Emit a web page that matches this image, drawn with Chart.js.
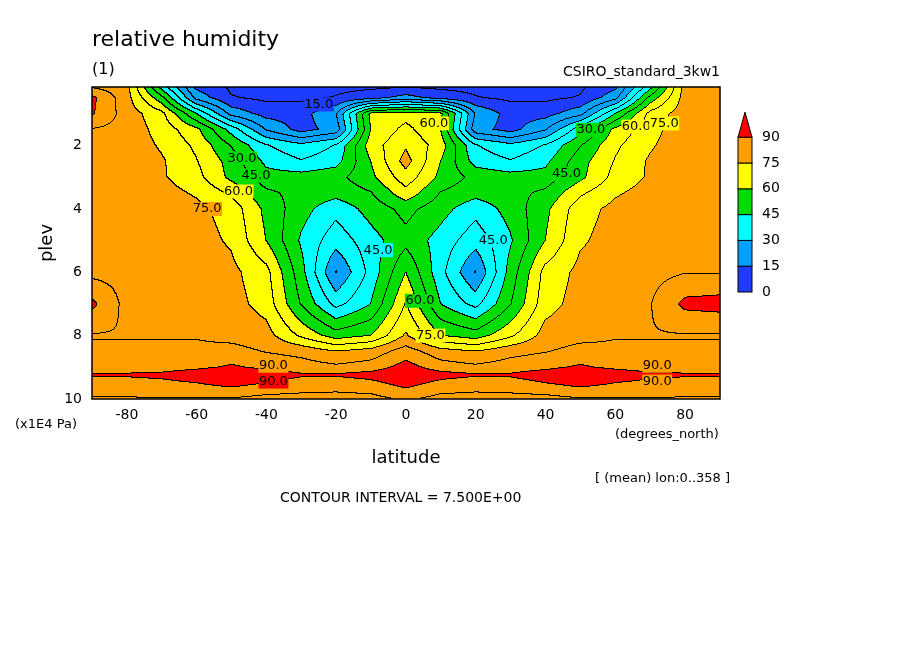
<!DOCTYPE html>
<html>
<head>
<meta charset="utf-8">
<script src="https://cdn.jsdelivr.net/npm/chart.js@4"></script>
<style>
  body { margin: 0; background: #fff; }
  #wrap { width: 904px; height: 654px; }
</style>
</head>
<body>
<div id="wrap"><canvas id="c" width="904" height="654"></canvas></div>
<script>
// grid axes
var lats = [-90, -80, -70, -60, -50, -40, -30, -20, -10, 0, 10, 20, 30, 40, 50, 60, 70, 80, 90];
var plevs = [0.1, 0.5, 1, 1.5, 2, 2.5, 3, 3.5, 4, 5, 6, 7, 8, 8.5, 9, 9.25, 9.5, 10];

// relative humidity (%), one row per pressure level, south -> north
var rh = [
  [80, 78, 40, 12,  6,  5,  5,  5,  5,  5,  5,  5,  5,  5,  6, 12, 40, 78, 80],
  [92, 78, 55, 20,  8,  6,  6,  8, 12, 18, 12,  8,  6,  6,  8, 20, 55, 78, 80],
  [91, 79, 70, 45, 20, 12, 12, 22, 62, 64, 62, 22, 12, 12, 20, 45, 70, 79, 80],
  [82, 80, 72, 62, 42, 22, 12, 18, 60, 70, 60, 18, 12, 22, 42, 62, 72, 80, 80],
  [80, 80, 74, 66, 52, 38, 32, 38, 64, 74, 64, 38, 32, 38, 52, 66, 74, 80, 80],
  [80, 80, 76, 68, 57, 43, 38, 42, 60, 78, 60, 42, 38, 43, 57, 68, 76, 80, 80],
  [80, 80, 76, 70, 58, 48, 48, 50, 58, 72, 58, 50, 48, 48, 58, 70, 76, 80, 80],
  [80, 80, 78, 74, 66, 54, 50, 48, 52, 65, 52, 48, 50, 54, 66, 74, 78, 80, 80],
  [80, 80, 79, 77, 72, 58, 48, 40, 48, 55, 48, 40, 48, 58, 72, 77, 79, 80, 80],
  [80, 80, 80, 78, 74, 60, 44, 33, 42, 50, 42, 33, 44, 60, 74, 78, 80, 80, 80],
  [80, 80, 80, 79, 77, 70, 48, 22, 40, 60, 40, 22, 48, 70, 77, 79, 80, 82, 82],
  [92, 80, 80, 80, 78, 72, 52, 35, 45, 68, 45, 35, 52, 72, 78, 80, 82, 92, 93],
  [82, 82, 82, 82, 80, 78, 66, 56, 60, 76, 60, 56, 66, 78, 80, 82, 82, 82, 82],
  [84, 84, 84, 84, 85, 82, 80, 75, 78, 86, 78, 75, 80, 82, 85, 84, 84, 84, 84],
  [86, 86, 86, 88, 91, 88, 86, 84, 86, 93, 86, 84, 86, 88, 91, 88, 86, 86, 86],
  [91, 91, 92, 95, 97, 94, 91, 91, 93, 97, 93, 91, 91, 94, 97, 95, 92, 91, 91],
  [86, 87, 88, 90, 93, 90, 87, 86, 88, 93, 88, 86, 87, 90, 93, 90, 88, 87, 86],
  [82, 82, 82, 82, 82, 80, 80, 80, 80, 84, 80, 80, 80, 80, 82, 82, 82, 82, 82]
];

var levels = [0, 15, 30, 45, 60, 75, 90];
var bandColors = [[30, 60, 255], [0, 160, 255], [0, 255, 255], [0, 220, 0], [255, 255, 0], [255, 160, 0], [255, 0, 0]];
var xTicks = [-80, -60, -40, -20, 0, 20, 40, 60, 80];
var yTicks = [2, 4, 6, 8, 10];

// contour labels: [lat, plev, text]
var contourLabels = [
  [-25, 0.7, '15.0'], [-47, 2.4, '30.0'], [-43, 2.95, '45.0'], [-48, 3.45, '60.0'],
  [-57, 4.0, '75.0'], [8, 1.3, '60.0'], [-8, 5.3, '45.0'], [25, 5.0, '45.0'],
  [4, 6.9, '60.0'], [7, 8.0, '75.0'], [46, 2.9, '45.0'], [53, 1.5, '30.0'],
  [66, 1.4, '60.0'], [74, 1.3, '75.0'], [-38, 8.95, '90.0'], [-38, 9.45, '90.0'],
  [72, 8.95, '90.0'], [72, 9.45, '90.0']
];

function bracket(arr, v) {
  var i = 0;
  while (i < arr.length - 2 && v > arr[i + 1]) i++;
  var t = (v - arr[i]) / (arr[i + 1] - arr[i]);
  return [i, Math.max(0, Math.min(1, t))];
}

function sample(lat, p) {
  var bx = bracket(lats, lat), by = bracket(plevs, p);
  var i = bx[0], tx = bx[1], j = by[0], ty = by[1];
  var a = rh[j][i] * (1 - tx) + rh[j][i + 1] * tx;
  var b = rh[j + 1][i] * (1 - tx) + rh[j + 1][i + 1] * tx;
  return a * (1 - ty) + b * ty;
}

var contourPlugin = {
  id: 'contour',
  beforeDatasetsDraw: function(chart) {
    var ctx = chart.ctx, area = chart.chartArea;
    var xs = chart.scales.x, ys = chart.scales.y;
    var w = Math.round(area.right - area.left), h = Math.round(area.bottom - area.top);
    var vals = new Float32Array(w * h);
    for (var py = 0; py < h; py++) {
      var p = ys.getValueForPixel(area.top + py + 0.5);
      for (var px = 0; px < w; px++) {
        vals[py * w + px] = sample(xs.getValueForPixel(area.left + px + 0.5), p);
      }
    }
    var img = ctx.createImageData(w, h);
    for (var k = 0; k < w * h; k++) {
      var v = vals[k];
      var band = Math.min(6, Math.max(0, Math.floor(v / 15)));
      var c = bandColors[band];
      var fine = Math.floor(v / 7.5);
      var line = false;
      var x = k % w, y = (k - x) / w;
      if (x < w - 1 && Math.floor(vals[k + 1] / 7.5) !== fine) line = true;
      if (y < h - 1 && Math.floor(vals[k + w] / 7.5) !== fine) line = true;
      if (line) c = [0, 0, 0];
      img.data[k * 4] = c[0];
      img.data[k * 4 + 1] = c[1];
      img.data[k * 4 + 2] = c[2];
      img.data[k * 4 + 3] = 255;
    }
    ctx.putImageData(img, Math.round(area.left), Math.round(area.top));

    ctx.save();
    ctx.font = '13px "DejaVu Sans"';
    ctx.textAlign = 'center';
    ctx.textBaseline = 'middle';
    contourLabels.forEach(function(l) {
      var x = xs.getPixelForValue(l[0]), y = ys.getPixelForValue(l[1]);
      var col = bandColors[Math.min(6, Math.floor(sample(l[0], l[1]) / 15))];
      ctx.fillStyle = 'rgb(' + col.join(',') + ')';
      ctx.fillRect(x - 15, y - 7, 30, 14);
      ctx.fillStyle = '#000';
      ctx.fillText(l[2], x, y);
    });
    ctx.restore();
  },
  afterDraw: function(chart) {
    var ctx = chart.ctx, area = chart.chartArea;
    ctx.save();
    ctx.strokeStyle = '#000';
    ctx.lineWidth = 1.5;
    ctx.strokeRect(area.left, area.top, area.right - area.left, area.bottom - area.top);

    // colour bar
    var bx = 738, bw = 14, bBottom = 292, bh = 25.8;
    ctx.lineWidth = 1;
    ctx.font = '14px "DejaVu Sans"';
    ctx.textBaseline = 'middle';
    for (var i = 0; i < 6; i++) {
      var y0 = bBottom - (i + 1) * bh;
      ctx.fillStyle = 'rgb(' + bandColors[i].join(',') + ')';
      ctx.fillRect(bx, y0, bw, bh);
      ctx.strokeRect(bx, y0, bw, bh);
    }
    var topY = bBottom - 6 * bh;
    ctx.fillStyle = 'rgb(' + bandColors[6].join(',') + ')';
    ctx.beginPath();
    ctx.moveTo(bx, topY);
    ctx.lineTo(bx + bw / 2, topY - 25);
    ctx.lineTo(bx + bw, topY);
    ctx.closePath();
    ctx.fill();
    ctx.stroke();
    ctx.fillStyle = '#000';
    levels.forEach(function(lv, i) {
      ctx.fillText(String(lv), 762, bBottom - i * bh);
    });

    // texts
    ctx.textBaseline = 'alphabetic';
    ctx.font = '22px "DejaVu Sans"';
    ctx.fillText('relative humidity', 92, 46);
    ctx.font = '16px "DejaVu Sans"';
    ctx.fillText('(1)', 92, 74);
    ctx.font = '14px "DejaVu Sans"';
    ctx.textAlign = 'right';
    ctx.fillText('CSIRO_standard_3kw1', 720, 76);
    ctx.textAlign = 'left';
    ctx.font = '13px "DejaVu Sans"';
    ctx.fillText('(x1E4 Pa)', 15, 428);
    ctx.fillText('(degrees_north)', 615, 438);
    ctx.fillText('[ (mean) lon:0..358 ]', 595, 482);
    ctx.font = '14px "DejaVu Sans"';
    ctx.fillText('CONTOUR INTERVAL = 7.500E+00', 280, 502);
    ctx.font = '18px "DejaVu Sans"';
    ctx.textAlign = 'center';
    ctx.fillText('latitude', 406, 463);
    ctx.translate(52, 243);
    ctx.rotate(-Math.PI / 2);
    ctx.fillText('plev', 0, 0);
    ctx.restore();
  }
};

new Chart(document.getElementById('c'), {
  type: 'scatter',
  data: { datasets: [{ data: [] }] },
  plugins: [contourPlugin],
  options: {
    responsive: false,
    animation: false,
    layout: { padding: { left: 0, right: 184, top: 87, bottom: 0 } },
    plugins: { legend: { display: false }, tooltip: { enabled: false } },
    scales: {
      x: {
        type: 'linear', min: -90, max: 90,
        afterBuildTicks: function(s) { s.ticks = xTicks.map(function(v) { return { value: v }; }); },
        afterFit: function(s) { s.height = 255; },
        grid: { display: false, drawTicks: true, tickLength: 6 },
        border: { display: false },
        ticks: { color: '#000', font: { family: 'DejaVu Sans', size: 14 }, maxRotation: 0, padding: 2 }
      },
      y: {
        type: 'linear', reverse: true, min: 0.15, max: 10,
        afterBuildTicks: function(s) { s.ticks = yTicks.map(function(v) { return { value: v }; }); },
        afterFit: function(s) { s.width = 92; },
        grid: { display: false, tickLength: 6 },
        border: { display: false },
        ticks: { color: '#000', font: { family: 'DejaVu Sans', size: 14 }, padding: 4 }
      }
    }
  }
});
</script>
</body>
</html>
